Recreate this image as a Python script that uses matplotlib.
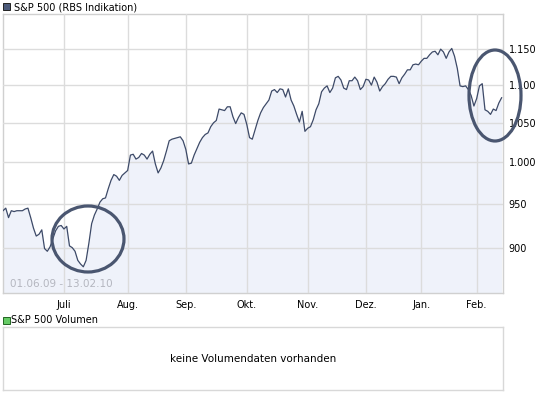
import numpy as np
import pandas as pd
import matplotlib
matplotlib.use("Agg")
import matplotlib.pyplot as plt
from matplotlib.patches import Ellipse, Rectangle
from matplotlib.ticker import FuncFormatter, FixedLocator, NullLocator

# trading days 01.06.2009 - 12.02.2010 (weekdays without 24./25./31.12. and 01.01.)
HOLIDAYS = ["2009-12-24", "2009-12-25", "2009-12-31", "2010-01-01"]
dates = pd.bdate_range("2009-06-01", "2010-02-12")
dates = dates[~dates.isin(pd.to_datetime(HOLIDAYS))]

closes = [
  942, 945, 934, 942, 941, 942, 942, 942, 944, 945,
  934, 922, 913, 915, 920, 899, 896, 901, 910, 919,
  924, 925, 921, 924, 902, 900, 896, 886, 882, 879,
  886, 905, 927, 937, 944, 952, 956, 957, 968, 978,
  985, 983, 978, 984, 987, 990, 1009, 1010, 1004, 1006,
  1011, 1009, 1004, 1010, 1014, 998, 987, 993, 1002, 1014,
  1027, 1029, 1030, 1031, 1032, 1027, 1016, 998, 999, 1009,
  1017, 1025, 1031, 1035, 1037, 1045, 1050, 1053, 1068, 1067,
  1066, 1071, 1071, 1058, 1049, 1057, 1063, 1061, 1048, 1031,
  1029, 1041, 1053, 1063, 1070, 1075, 1080, 1092, 1094, 1090,
  1095, 1094, 1084, 1095, 1080, 1072, 1061, 1051, 1065, 1039,
  1043, 1045, 1054, 1067, 1075, 1091, 1096, 1099, 1090, 1096,
  1110, 1112, 1107, 1096, 1094, 1106, 1106, 1111, 1106, 1094,
  1098, 1108, 1107, 1100, 1111, 1104, 1092, 1098, 1102, 1108,
  1112, 1112, 1111, 1102, 1110, 1115, 1121, 1121, 1128, 1129,
  1128, 1133, 1137, 1137, 1142, 1146, 1147, 1142, 1150, 1146,
  1137, 1146, 1151, 1140, 1123, 1099, 1098, 1099, 1094, 1086,
  1072, 1082, 1099, 1102, 1067, 1065, 1061, 1068, 1066, 1076,
  1083,
]

y_ticks = [900, 950, 1000, 1050, 1100, 1150]
month_names = ["Juli", "Aug.", "Sep.", "Okt.", "Nov.", "Dez.", "Jan.", "Feb."]

LINE = "#3d4a68"
FILL = "#eff2fa"
GRID = "#dcdcdc"
RING = "#4a5670"

W, H = 545, 395

def fx(px):
  return px / W

def fy(py):
  return 1 - py / H

plt.rcParams["font.family"] = "DejaVu Sans"
plt.rcParams["font.size"] = 7

fig = plt.figure(figsize=(W / 100, H / 100), dpi=100)

ax = fig.add_axes([fx(3), fy(293), (503 - 3) / W, (293 - 14) / H])
x = np.arange(len(closes))
ax.fill_between(x, closes, 800, color=FILL, lw=0, zorder=1)
ax.plot(x, closes, color=LINE, lw=0.9, zorder=3)
ax.set_yscale("log")
ax.set_ylim(851, 1201)
ax.set_xlim(0, len(closes) - 0.5)

month_pos = []
for i in range(1, len(dates)):
  if dates[i].month != dates[i - 1].month:
    month_pos.append(i)
ax.xaxis.set_major_locator(FixedLocator(month_pos))
ax.set_xticklabels(month_names)
ax.xaxis.set_minor_locator(NullLocator())

ax.yaxis.set_major_locator(FixedLocator(y_ticks))
ax.yaxis.set_minor_locator(NullLocator())
ax.yaxis.set_major_formatter(FuncFormatter(lambda v, p: f"{int(v):,}".replace(",", ".")))
ax.yaxis.tick_right()
ax.tick_params(axis="both", length=0, labelsize=7, colors="black")
ax.tick_params(axis="y", pad=4)
ax.tick_params(axis="x", pad=5)
ax.grid(True, color=GRID, lw=1, zorder=2)
ax.set_axisbelow(False)
for s in ax.spines.values():
  s.set_color("#d0d0d0")
  s.set_linewidth(1)

ax.text(0.015, 0.015, "01.06.09 - 13.02.10", transform=ax.transAxes,
        color="#b4b6bf", fontsize=7.5, ha="left", va="bottom")

# titles
fig.patches.append(Rectangle((fx(3), fy(10)), 7 / W, 7 / H, transform=fig.transFigure,
                             facecolor="#4c5a7a", edgecolor="#222222", lw=0.7))
fig.text(fx(14), fy(7), "S&P 500 (RBS Indikation)", ha="left", va="center", fontsize=7)

fig.patches.append(Rectangle((fx(3), fy(324)), 7 / W, 7 / H, transform=fig.transFigure,
                             facecolor="#66cc66", edgecolor="#226622", lw=0.7))
fig.text(fx(11), fy(320), "S&P 500 Volumen", ha="left", va="center", fontsize=7)

# volume panel
vax = fig.add_axes([fx(3), fy(390), (503 - 3) / W, (390 - 327) / H])
vax.set_xticks([])
vax.set_yticks([])
for s in vax.spines.values():
  s.set_color("#d8d8d8")
  s.set_linewidth(1)
vax.text(0.5, 0.5, "keine Volumendaten vorhanden", transform=vax.transAxes,
         ha="center", va="center", fontsize=7.5)

# marker rings
fig.patches.append(Ellipse((fx(88), fy(239)), 72 / W, 66 / H, transform=fig.transFigure,
                           fill=False, edgecolor=RING, lw=2.3))
fig.patches.append(Ellipse((fx(495), fy(95.5)), 52 / W, 91 / H, transform=fig.transFigure,
                           fill=False, edgecolor=RING, lw=2.3))

fig.savefig("out.png", dpi=100)
